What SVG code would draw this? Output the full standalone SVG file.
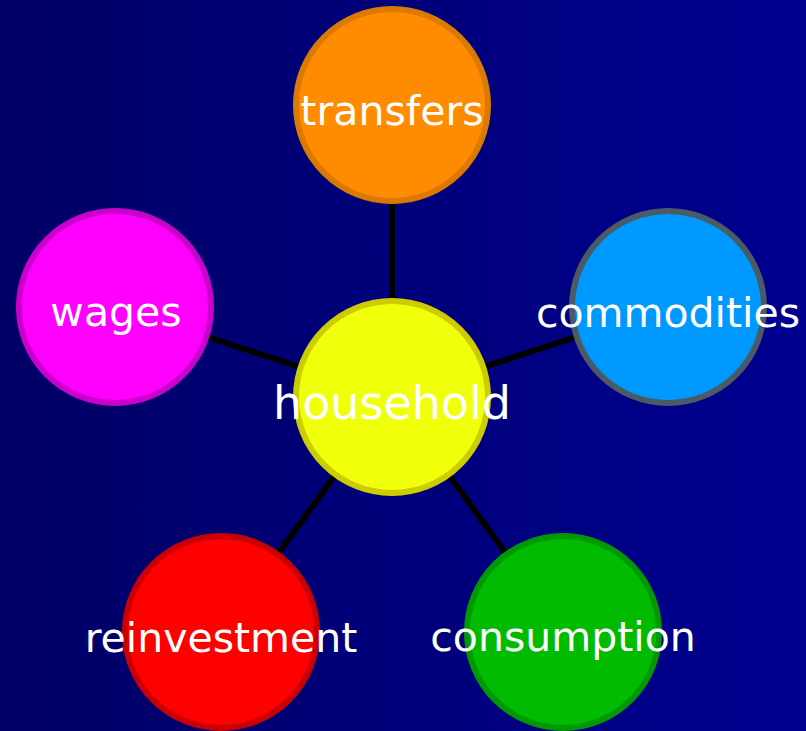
<svg xmlns="http://www.w3.org/2000/svg" width="806" height="731" viewBox="0 0 806 731">
<defs>
<linearGradient id="bg" x1="0" y1="0" x2="1" y2="0">
<stop offset="0" stop-color="#000066"/>
<stop offset="1" stop-color="#000090"/>
</linearGradient>
<style>
.link{stroke:#000;stroke-width:6;fill:none}
.node circle{stroke-width:6}
.node text{font-family:"DejaVu Sans",Verdana,sans-serif;font-size:41px;fill:#fff;text-anchor:middle}
</style>
</defs>
<rect width="806" height="731" fill="url(#bg)"/>
<g id="connectors">
<line class="link" x1="392" y1="397" x2="392" y2="105"/>
<line class="link" x1="392" y1="397" x2="668" y2="307"/>
<line class="link" x1="392" y1="397" x2="115" y2="307"/>
<line class="link" x1="392" y1="397" x2="221" y2="632"/>
<line class="link" x1="392" y1="397" x2="563" y2="632"/>
</g>
<g id="transfers" class="node">
<circle cx="392" cy="105" r="96" fill="#FF8C00" stroke="#DB7A00"/>
<text x="392" y="125">transfers</text>
</g>
<g id="commodities" class="node">
<circle cx="668" cy="307" r="96" fill="#0099FF" stroke="#4A5A66"/>
<text x="668" y="327">commodities</text>
</g>
<g id="wages" class="node">
<circle cx="115" cy="307" r="96" fill="#FF00FF" stroke="#CC00CC"/>
<text x="116" y="326">wages</text>
</g>
<g id="reinvestment" class="node">
<circle cx="221" cy="632" r="96" fill="#FF0000" stroke="#CC0000"/>
<text x="221" y="652">reinvestment</text>
</g>
<g id="consumption" class="node">
<circle cx="563" cy="632" r="96" fill="#00BB00" stroke="#009900"/>
<text x="563" y="651">consumption</text>
</g>
<g id="household" class="node">
<circle cx="392" cy="397" r="96" fill="#F0FF0A" stroke="#CCCC00"/>
<text x="392" y="419" style="font-size:46px">household</text>
</g>
</svg>
